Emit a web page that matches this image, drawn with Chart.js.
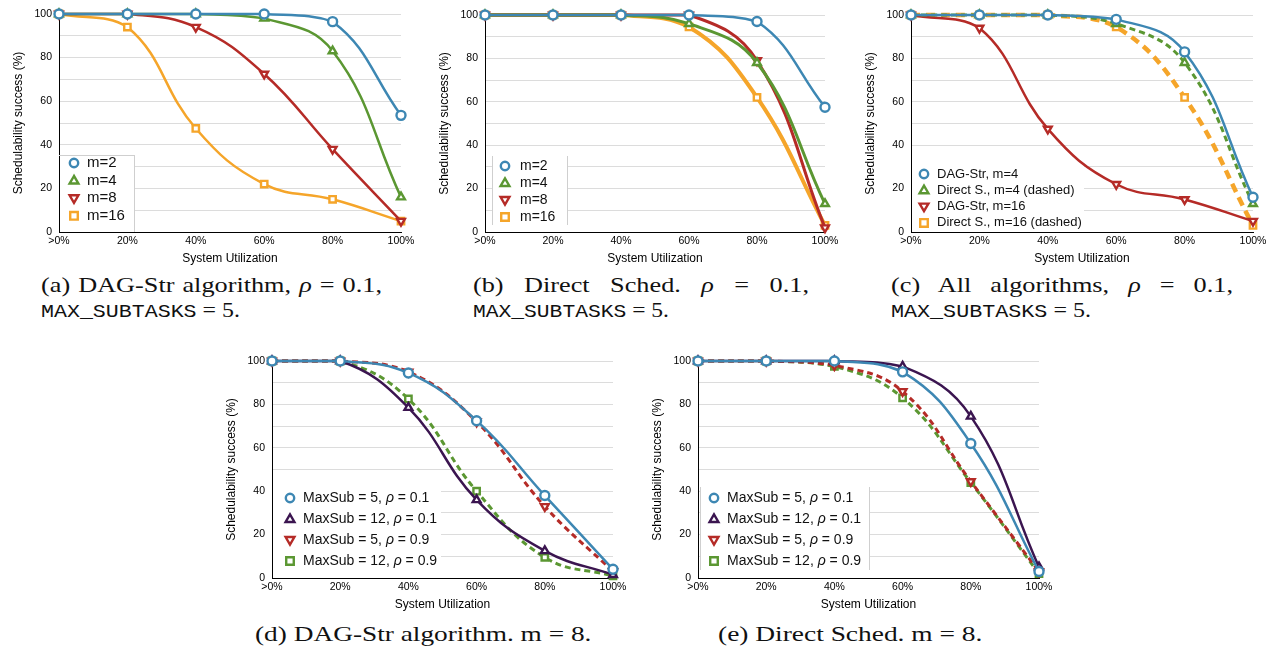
<html lang="en">
<head>
    <meta charset="UTF-8">
    <title>Schedulability success</title>
    <script src="https://cdn.jsdelivr.net/npm/chart.js"></script>
    <style>
        body { margin: 0; width: 1271px; height: 648px; overflow: hidden; background: #fff; position: relative; }
        .box { position: absolute; }
        .cap { position: absolute; font-family: 'Liberation Serif', serif; font-size: 21px; line-height: 25px; color: #111; }
        .j { width: calc(100% / 1.25); transform: scaleX(1.25); transform-origin: 0 0; text-align: justify; text-align-last: justify; }
        .f { display: inline-block; white-space: nowrap; transform-origin: 0 0; }
        .tt { font-family: 'Liberation Mono', monospace; font-size: 19px; }
    </style>
</head>
<body>

    <!-- chart canvases -->
    <div class="box" style="left:9px;top:0px;width:408px;height:266px"><canvas id="chartA"></canvas></div>
    <div class="box" style="left:435px;top:1px;width:406px;height:265px"><canvas id="chartB"></canvas></div>
    <div class="box" style="left:861px;top:1px;width:408px;height:265px"><canvas id="chartC"></canvas></div>
    <div class="box" style="left:222px;top:347px;width:407px;height:265px"><canvas id="chartD"></canvas></div>
    <div class="box" style="left:648px;top:347px;width:407px;height:265px"><canvas id="chartE"></canvas></div>

    <!-- captions -->
    <div class="cap" style="left:41px;top:273px;width:341px">
        <div class="j">(a) DAG-Str algorithm, <i>ρ</i> = 0.1,</div>
        <span class="f" data-w="199"><span class="tt">MAX_SUBTASKS</span> = 5.</span>
    </div>
    <div class="cap" style="left:473px;top:273px;width:336px">
        <div class="j">(b) Direct Sched. <i>ρ</i> = 0.1,</div>
        <span class="f" data-w="196"><span class="tt">MAX_SUBTASKS</span> = 5.</span>
    </div>
    <div class="cap" style="left:891px;top:273px;width:342px">
        <div class="j">(c) All algorithms, <i>ρ</i> = 0.1,</div>
        <span class="f" data-w="200"><span class="tt">MAX_SUBTASKS</span> = 5.</span>
    </div>
    <div class="cap" style="left:255px;top:622px">
        <span class="f" data-w="337">(d) DAG-Str algorithm. m = 8.</span>
    </div>
    <div class="cap" style="left:718px;top:622px">
        <span class="f" data-w="265">(e) Direct Sched. m = 8.</span>
    </div>

    <script>
        // x categories
        const utilLabels = ['>0%', '20%', '40%', '60%', '80%', '100%'];

        // (a) DAG-Str, rho = 0.1, MAX_SUBTASKS = 5
        const dagM2 = [100, 100, 100, 100, 96.5, 53.5];
        const dagM4 = [100, 100, 100, 98, 83, 16];
        const dagM8 = [100, 100, 94, 72.5, 38, 5];
        const dagM16 = [100, 94, 47.5, 22, 15, 5];

        // (b) Direct Sched., rho = 0.1, MAX_SUBTASKS = 5
        const dirM2 = [100, 100, 100, 100, 97, 57.5];
        const dirM4 = [100, 100, 100, 96, 78, 13];
        const dirM8 = [100, 100, 100, 100, 79, 2];
        const dirM16 = [100, 100, 100, 94.5, 62, 3];

        // (d) DAG-Str, m = 8
        const dagSub5r1 = [100, 100, 94.5, 72.5, 38, 4];
        const dagSub12r1 = [100, 100, 78.5, 36, 12.5, 1.5];
        const dagSub5r9 = [100, 100, 95, 72, 33, 3];
        const dagSub12r9 = [100, 100, 82.5, 40, 9.5, 1];

        // (e) Direct Sched., m = 8
        const dirSub5r1 = [100, 100, 100, 95, 62, 3];
        const dirSub12r1 = [100, 100, 100, 97.5, 74.5, 5];
        const dirSub5r9 = [100, 100, 98, 86, 44.5, 3];
        const dirSub12r9 = [100, 100, 97.5, 83, 44, 2];

        // series names
        const mNames = ['m=2', 'm=4', 'm=8', 'm=16'];
        const allNames = ['DAG-Str, m=4', 'Direct S., m=4 (dashed)', 'DAG-Str, m=16', 'Direct S., m=16 (dashed)'];
        const subNames = ['MaxSub = 5, ρ = 0.1', 'MaxSub = 12, ρ = 0.1', 'MaxSub = 5, ρ = 0.9', 'MaxSub = 12, ρ = 0.9'];

        const BLUE = '#3d87b3', GREEN = '#5b9732', RED = '#b52b27', ORANGE = '#f5a52a', PURPLE = '#3b1550';
        const FONT = "'Liberation Sans', Arial, sans-serif";
        Chart.defaults.font.family = FONT;

        // hollow marker like the ones on the lines
        function marker(ctx, style, rot, x, y, color) {
            const r = 4.2;
            ctx.beginPath();
            if (style === 'circle') {
                ctx.arc(x, y, r, 0, Math.PI * 2);
            } else if (style === 'rect') {
                ctx.rect(x - r * 0.9, y - r * 0.9, r * 1.8, r * 1.8);
            } else {
                const d = rot ? -1 : 1;
                ctx.moveTo(x, y - d * r * 1.1);
                ctx.lineTo(x - r * 1.05, y + d * r * 0.7);
                ctx.lineTo(x + r * 1.05, y + d * r * 0.7);
                ctx.closePath();
            }
            ctx.fillStyle = '#fff';
            ctx.fill();
            ctx.lineWidth = 2.4;
            ctx.strokeStyle = color;
            ctx.stroke();
        }

        // legend drawn inside the plot area
        const insideLegend = {
            id: 'insideLegend',
            beforeDatasetsDraw(chart, args, o) {
                if (!o || !o.box) return;
                const a = chart.chartArea, ctx = chart.ctx, b = o.box;
                ctx.save();
                ctx.fillStyle = '#fff';
                ctx.fillRect(a.left + b.l + 1, a.top + b.t, b.r - b.l, b.b - b.t - 1);
                ctx.strokeStyle = '#cfcfcf';
                ctx.lineWidth = 1;
                ctx.beginPath();
                if (b.sides.includes('t')) { ctx.moveTo(a.left + b.l, a.top + b.t + 0.5); ctx.lineTo(a.left + b.r, a.top + b.t + 0.5); }
                if (b.sides.includes('l')) { ctx.moveTo(a.left + b.l + 0.5, a.top + b.t); ctx.lineTo(a.left + b.l + 0.5, a.top + b.b); }
                if (b.sides.includes('r')) { ctx.moveTo(a.left + b.r + 0.5, a.top + b.t); ctx.lineTo(a.left + b.r + 0.5, a.top + b.b); }
                ctx.stroke();

                ctx.textBaseline = 'middle';
                chart.data.datasets.forEach((ds, i) => {
                    const y = a.top + o.y0 + i * o.dy;
                    marker(ctx, ds.pointStyle, ds.pointRotation, a.left + o.mx, y, ds.borderColor);
                    // rho in italics
                    let x = a.left + o.tx;
                    const parts = ds.label.split('ρ');
                    ctx.fillStyle = '#111';
                    parts.forEach((p, k) => {
                        ctx.font = o.font + 'px ' + FONT;
                        ctx.fillText(p, x, y);
                        x += ctx.measureText(p).width;
                        if (k < parts.length - 1) {
                            ctx.font = 'italic ' + o.font + 'px ' + FONT;
                            ctx.fillText('ρ', x, y);
                            x += ctx.measureText('ρ').width;
                        }
                    });
                });
                ctx.restore();
            }
        };

        function series(label, data, color, style, width, dash) {
            return {
                label: label,
                data: data,
                borderColor: color,
                backgroundColor: '#fff',
                borderWidth: width,
                borderDash: dash || [],
                pointStyle: style === 'down' ? 'triangle' : style,
                pointRotation: style === 'down' ? 180 : 0,
                pointRadius: 4.5,
                pointBorderWidth: 2.4,
                pointBackgroundColor: '#fff',
                pointBorderColor: color,
                tension: 0.42,
                clip: false
            };
        }

        function makeChart(id, datasets, legend) {
            return new Chart(document.getElementById(id), {
                type: 'line',
                data: { labels: utilLabels, datasets: datasets },
                options: {
                    responsive: true,
                    maintainAspectRatio: false,
                    animation: false,
                    layout: { padding: { top: 14, right: 16, left: 0, bottom: 0 } },
                    plugins: {
                        legend: { display: false },
                        tooltip: { enabled: false },
                        insideLegend: legend
                    },
                    scales: {
                        x: {
                            offset: false,
                            afterFit: (s) => { s.height = 34; s.paddingLeft = 0; s.paddingRight = 0; },
                            grid: { display: false, drawTicks: false },
                            border: { color: '#000', width: 1 },
                            ticks: { padding: 3, color: '#000', font: { size: 10.5 }, maxRotation: 0, autoSkip: false },
                            title: { display: true, text: 'System Utilization', color: '#000', font: { size: 12 }, padding: { top: 0, bottom: 0 } }
                        },
                        y: {
                            min: 0,
                            max: 100,
                            afterFit: (s) => { s.width = 50; s.paddingTop = 0; s.paddingBottom = 0; },
                            grid: { color: '#dcdcdc', drawTicks: false },
                            border: { color: '#000', width: 1 },
                            ticks: { stepSize: 10, padding: 7, color: '#000', font: { size: 10.5 }, callback: (v) => v % 20 === 0 ? v : '' },
                            title: { display: true, text: 'Schedulability success (%)', color: '#000', font: { size: 12 }, padding: { top: 2, bottom: 0 } }
                        }
                    }
                },
                plugins: [insideLegend]
            });
        }

        // (a)
        makeChart('chartA', [
            series(mNames[0], dagM2, BLUE, 'circle', 2.5),
            series(mNames[1], dagM4, GREEN, 'triangle', 2.5),
            series(mNames[2], dagM8, RED, 'down', 2.5),
            series(mNames[3], dagM16, ORANGE, 'rect', 2.5)
        ], { mx: 15, tx: 28, y0: 149, dy: 17.6, font: 15, box: { l: 0, t: 141, r: 75, b: 218, sides: 'tr' } });

        // (b)
        makeChart('chartB', [
            series(mNames[0], dirM2, BLUE, 'circle', 2.5),
            series(mNames[1], dirM4, GREEN, 'triangle', 3),
            series(mNames[2], dirM8, RED, 'down', 3),
            series(mNames[3], dirM16, ORANGE, 'rect', 4)
        ], { mx: 20, tx: 35, y0: 151, dy: 17, font: 14, box: { l: 7, t: 141, r: 82, b: 210, sides: 'lr' } });

        // (c)
        makeChart('chartC', [
            series(allNames[0], dagM4, BLUE, 'circle', 2.5),
            series(allNames[1], dirM4, GREEN, 'triangle', 3, [6, 4]),
            series(allNames[2], dagM16, RED, 'down', 2.5),
            series(allNames[3], dirM16, ORANGE, 'rect', 4.5, [9, 6])
        ], { mx: 13, tx: 26, y0: 159, dy: 16.3, font: 13, box: { l: 0, t: 150, r: 172, b: 217, sides: '' } });

        // (d)
        makeChart('chartD', [
            series(subNames[0], dagSub5r1, BLUE, 'circle', 2.5),
            series(subNames[1], dagSub12r1, PURPLE, 'triangle', 2.5),
            series(subNames[2], dagSub5r9, RED, 'down', 3, [6, 4]),
            series(subNames[3], dagSub12r9, GREEN, 'rect', 3, [6, 4])
        ], { mx: 18, tx: 31, y0: 137, dy: 21, font: 14, box: { l: 0, t: 124, r: 168, b: 217, sides: '' } });

        // (e)
        makeChart('chartE', [
            series(subNames[0], dirSub5r1, BLUE, 'circle', 2.5),
            series(subNames[1], dirSub12r1, PURPLE, 'triangle', 2.5),
            series(subNames[2], dirSub5r9, RED, 'down', 3, [6, 4]),
            series(subNames[3], dirSub12r9, GREEN, 'rect', 3, [6, 4])
        ], { mx: 16, tx: 29, y0: 137, dy: 21, font: 14, box: { l: 2, t: 126, r: 171, b: 209, sides: 'lr' } });

        // stretch caption lines to the measured widths
        document.querySelectorAll('.f').forEach((el) => {
            const w = +el.dataset.w;
            el.style.transform = 'scaleX(' + (w / el.offsetWidth) + ')';
        });
    </script>
</body>
</html>
